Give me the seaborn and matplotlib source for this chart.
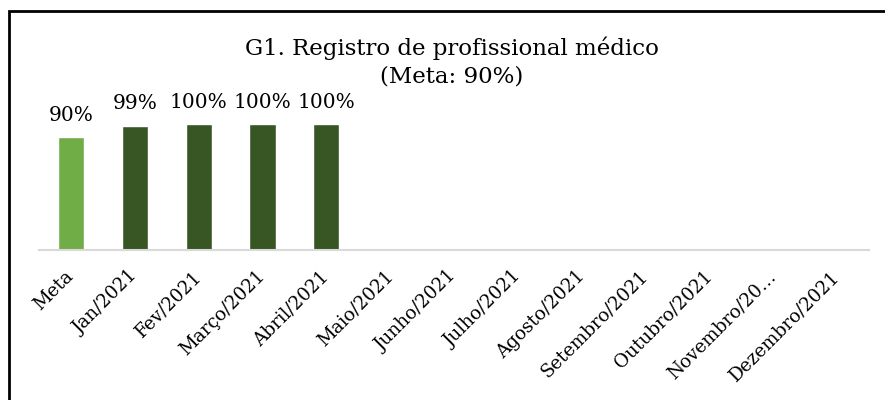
import matplotlib
matplotlib.use("Agg")
import matplotlib.pyplot as plt
import seaborn as sns
import numpy as np
import pandas as pd

categories = [
    "Meta", "Jan/2021", "Fev/2021", "Março/2021", "Abril/2021", "Maio/2021",
    "Junho/2021", "Julho/2021", "Agosto/2021", "Setembro/2021",
    "Outubro/2021", "Novembro/20…", "Dezembro/2021",
]
values = [0.90, 0.99, 1.00, 1.00, 1.00,
          np.nan, np.nan, np.nan, np.nan, np.nan, np.nan, np.nan, np.nan]
kinds = ["meta"] + ["mes"] * 12

title = "G1. Registro de profissional médico\n(Meta: 90%)"

df = pd.DataFrame({"mes": categories, "valor": values, "tipo": kinds})

sns.set_theme(style="white")
plt.rcParams["font.family"] = ["DejaVu Serif"]
plt.rcParams["text.color"] = "black"
plt.rcParams["xtick.color"] = "black"

fig = plt.figure(figsize=(8.85, 4), dpi=100)
ax = fig.add_axes([39 / 885, 0.375, 830 / 885, 0.3765])

sns.barplot(
    data=df,
    x="mes",
    y="valor",
    hue="tipo",
    order=categories,
    palette={"meta": "#70AD47", "mes": "#375623"},
    saturation=1,
    dodge=False,
    width=0.41,
    legend=False,
    ax=ax,
)

for container in ax.containers:
    labels = [
        "" if np.isnan(v) else f"{v:.0%}"
        for v in container.datavalues
    ]
    ax.bar_label(container, labels=labels, padding=9, fontsize=14.5)

ax.set_xlim(-0.5, len(categories) - 0.5)
ax.set_ylim(0, 1.2)
ax.set_xlabel("")
ax.set_ylabel("")
ax.set_yticks([])

for side in ["top", "left", "right"]:
    ax.spines[side].set_visible(False)
ax.spines["bottom"].set_color("#D9D9D9")
ax.spines["bottom"].set_linewidth(1.5)

ax.tick_params(axis="x", length=0, pad=17)
plt.setp(
    ax.get_xticklabels(),
    rotation=45,
    ha="right",
    va="center",
    rotation_mode="anchor",
    fontsize=13.2,
)

fig.text(452 / 885, 1 - 62 / 400, title, ha="center", va="center",
         fontsize=16.5, linespacing=1.35)

fig.add_artist(plt.Rectangle(
    (9 / 885, -0.1), 1.0, 1.1 - 11 / 400,
    transform=fig.transFigure, fill=False,
    edgecolor="black", linewidth=2, clip_on=False,
))

fig.savefig("out.png", dpi=100)
